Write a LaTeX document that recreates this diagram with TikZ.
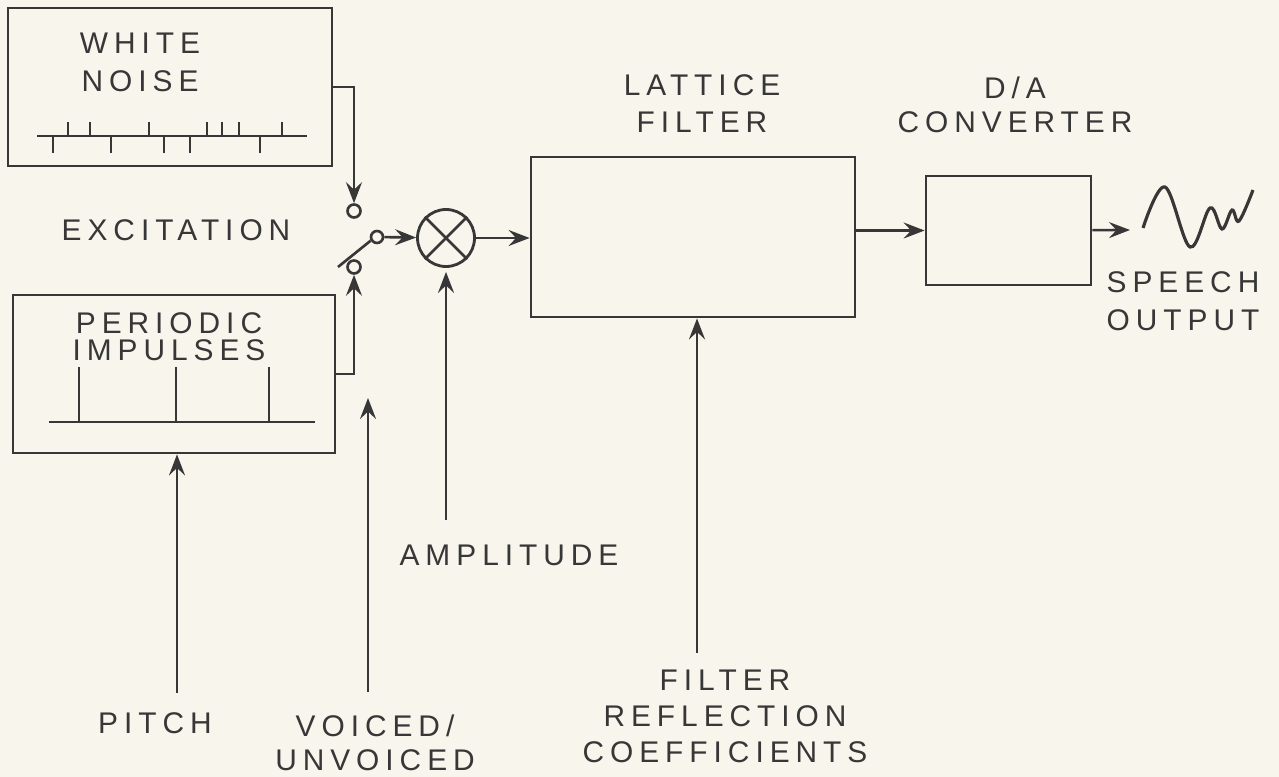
\documentclass[tikz,border=0pt]{standalone}
\usepackage{fontspec}
\usepackage{tikz}
\usetikzlibrary{positioning,arrows.meta,calc}
\newfontfamily\lettering[LetterSpace=20]{Liberation Sans}
\definecolor{ink}{RGB}{55,55,55}
\definecolor{paper}{RGB}{248,245,236}
\tikzset{
  blk/.style={draw=ink, line width=1.6pt, inner sep=0pt},
  contact/.style={circle, draw=ink, line width=1.5pt, minimum size=0.26cm, inner sep=0pt},
  wire/.style={-{Stealth[length=0.42cm, width=0.32cm, inset=0.15cm]}, line width=1.5pt, draw=ink},
  pen/.style={line width=1.5pt, draw=ink},
  lbl/.style={font=\lettering\fontsize{17}{21.5}\selectfont, text=ink, align=center, inner sep=0pt}
}

\begin{document}
\begin{tikzpicture}[x=2cm, y=2cm]
  \fill[paper] (0,0) rectangle (12.79,-7.77);
  \useasboundingbox (0,0) rectangle (12.79,-7.77);

  \node[blk, minimum width=6.48cm, minimum height=3.16cm] (noise) at (1.70,-0.87) {};
  \node[blk, minimum width=6.44cm, minimum height=3.16cm] (pulse) at (1.74,-3.74) {};
  \node[blk, minimum width=6.48cm, minimum height=3.20cm] (lattice) at (6.93,-2.37) {};
  \node[blk, minimum width=3.30cm, minimum height=2.18cm] (dac) at (10.085,-2.305) {};
  \node[circle, blk, minimum size=1.14cm] (mult) at (4.46,-2.38) {};
  \draw[pen] (mult.45) -- (mult.225) (mult.135) -- (mult.-45);

  \node[contact] (up) at (3.54,-2.11) {};
  \node[contact] (low) at (3.54,-2.67) {};
  \node[contact, minimum size=0.24cm] (pivot) at (3.77,-2.37) {};
  \coordinate (lever) at (3.38,-2.67);

  \node[lbl] (wn) at (1.40,-0.625) {WHITE\\NOISE};
  \node[lbl] (exc) at (1.76,-2.30) {EXCITATION};
  \node[lbl, font=\lettering\fontsize{17}{15.5}\selectfont] (pi) at (1.69,-3.37) {PERIODIC\\IMPULSES};
  \node[lbl] (lf) at (7.02,-1.035) {LATTICE\\FILTER};
  \node[lbl, font=\lettering\fontsize{17}{19.5}\selectfont] (da) at (10.15,-1.045) {D/A\\CONVERTER};
  \node[lbl] (so) at (11.83,-3.015) {SPEECH\\OUTPUT};
  \node[lbl] (amp) at (5.09,-5.55) {AMPLITUDE};
  \node[lbl] (pitch) at (1.55,-7.23) {PITCH};
  \node[lbl, font=\lettering\fontsize{17}{19.5}\selectfont] (vu) at (3.75,-7.43) {VOICED/\\UNVOICED};
  \node[lbl, font=\lettering\fontsize{17}{20.5}\selectfont] (frc) at (7.25,-7.16) {FILTER\\REFLECTION\\COEFFICIENTS};

  \draw[pen] (0.37,-1.36) -- (3.07,-1.36);
  \foreach \x in {0.68,0.90,1.49,2.07,2.22,2.39,2.82}
    \draw[pen] (\x,-1.36) -- (\x,-1.22);
  \foreach \x in {0.53,1.11,1.64,1.90,2.60}
    \draw[pen] (\x,-1.36) -- (\x,-1.53);
  \draw[pen] (0.49,-4.22) -- (3.15,-4.22);
  \foreach \x in {0.79,1.76,2.69}
    \draw[pen] (\x,-4.22) -- (\x,-3.67);

  \draw[wire] (noise.east) -| (up.north);
  \draw[wire] (pulse.east) -| (low.south);
  \draw[pen] (lever) -- (pivot.210);
  \draw[wire] (pivot) -- (mult);
  \draw[wire] (mult) -- (lattice.west |- mult);
  \draw[wire] (lattice.east |- dac) -- (dac);
  \coordinate (spk) at (11.30,-2.30);
  \draw[wire] (dac) -- (spk);
  \draw[pen, line width=1.8pt] plot[smooth, tension=0.6] coordinates
    {(11.43,-2.28) (11.65,-1.87) (11.90,-2.47) (12.10,-2.08) (12.22,-2.29) (12.32,-2.10) (12.39,-2.21) (12.53,-1.90)};

  \coordinate (pitcht) at (1.77,-6.93);
  \coordinate (vut) at (3.68,-6.92);
  \coordinate (vuh) at (3.68,-3.98);
  \coordinate (ampt) at (4.46,-5.20);
  \coordinate (frct) at (6.97,-6.53);
  \draw[wire] (pitcht) -- (pitcht |- pulse.south);
  \draw[wire] (vut) -- (vuh);
  \draw[wire, shorten >=0.08cm] (ampt) -- (mult.south);
  \draw[wire] (frct) -- (frct |- lattice.south);
\end{tikzpicture}
\end{document}
